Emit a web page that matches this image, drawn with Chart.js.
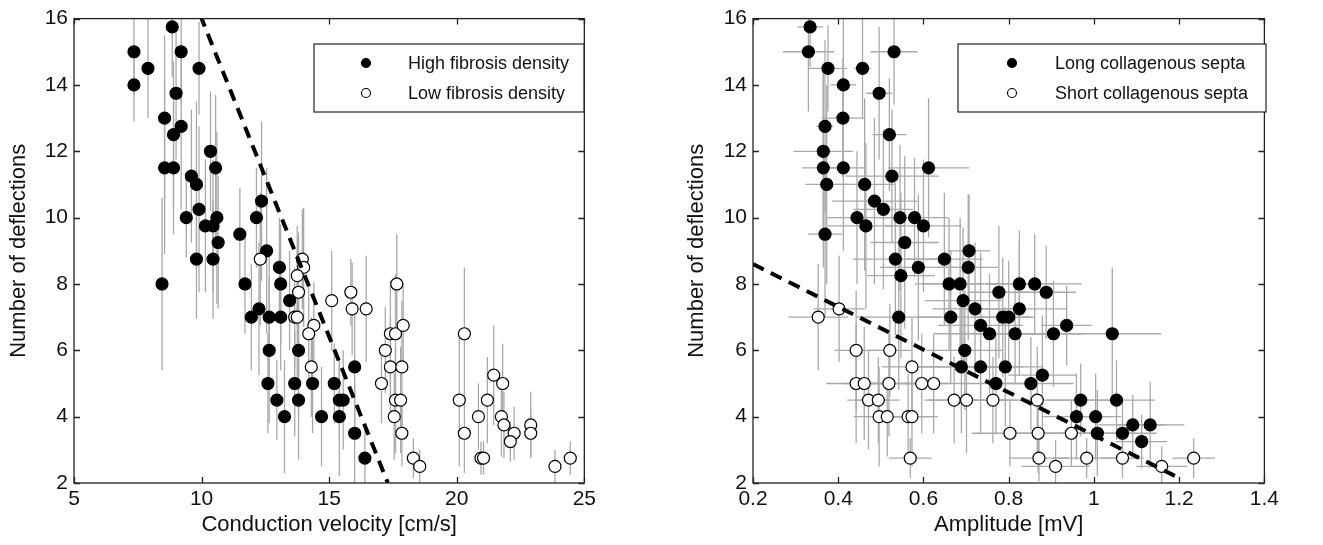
<!DOCTYPE html>
<html>
<head>
<meta charset="utf-8">
<script src="https://cdn.jsdelivr.net/npm/chart.js@4.4.1/dist/chart.umd.min.js"></script>
<style>
  body { margin: 0; background: #fff; width: 1323px; height: 545px; overflow: hidden; position: relative; }
  .panel { position: absolute; top: 0; height: 545px; }
  #leftPanel { left: 0; width: 600px; }
  #rightPanel { left: 660px; width: 623px; }
</style>
</head>
<body>
<div class="panel" id="leftPanel"><canvas id="velocityChart"></canvas></div>
<div class="panel" id="rightPanel"><canvas id="amplitudeChart"></canvas></div>
<script>
// ---- left panel: conduction velocity ----
const highCV   = [7.35, 7.35, 7.9, 8.85, 9.2, 9.9, 9.0, 8.55, 9.2, 8.9, 10.35, 8.55, 8.9, 10.55, 9.6, 9.8, 12.35, 9.9, 9.4, 10.6, 12.15, 10.15, 10.45, 11.5, 10.65, 12.55, 9.8, 10.45, 8.45, 11.7, 13.05, 13.1, 13.45, 12.25, 11.95, 12.65, 13.1, 12.65, 13.8, 12.6, 13.65, 14.35, 15.2, 12.95, 13.8, 15.4, 15.55, 13.25, 14.7, 15.4, 16.0, 16.0, 16.4];
const highDefl = [15, 14, 14.5, 15.75, 15, 14.5, 13.75, 13, 12.75, 12.5, 12, 11.5, 11.5, 11.5, 11.25, 11, 10.5, 10.25, 10, 10, 10, 9.75, 9.75, 9.5, 9.25, 9, 8.75, 8.75, 8, 8, 8.5, 8, 7.5, 7.25, 7, 7, 7, 6, 6, 5, 5, 5, 5, 4.5, 4.5, 4.5, 4.5, 4, 4, 4, 5.5, 3.5, 2.75];
const highErr  = [1.3, 1.1, 1.5, 1.5, 1.6, 1.4, 2.0, 2.5, 2.5, 2.2, 1.8, 2.6, 2.0, 2.2, 2.0, 2.5, 2.4, 2.5, 1.2, 2.6, 1.5, 2.0, 2.0, 1.4, 2.0, 2.5, 1.8, 1.8, 2.6, 1.5, 1.5, 1.8, 1.5, 2.0, 1.6, 2.0, 1.6, 2.2, 2.0, 1.5, 1.6, 1.5, 1.2, 1.2, 1.8, 1.2, 1.5, 1.7, 1.5, 1.8, 1.8, 1.5, 1.0];

const lowCV   = [12.3, 13.95, 14.0, 13.75, 13.8, 15.1, 13.65, 13.75, 14.4, 14.2, 14.3, 15.85, 15.9, 16.45, 17.65, 17.4, 17.6, 17.9, 17.2, 17.4, 17.85, 17.05, 17.6, 17.8, 17.55, 17.85, 18.3, 18.55, 20.3, 20.1, 20.3, 21.45, 21.8, 21.2, 20.85, 21.75, 21.85, 22.25, 22.1, 22.9, 22.9, 20.95, 21.05, 23.85, 24.45];
const lowDefl = [8.75, 8.75, 8.5, 8.25, 7.75, 7.5, 7, 7, 6.75, 6.5, 5.5, 7.75, 7.25, 7.25, 8, 6.5, 6.5, 6.75, 6, 5.5, 5.5, 5, 4.5, 4.5, 4, 3.5, 2.75, 2.5, 6.5, 4.5, 3.5, 5.25, 5, 4.5, 4, 4, 3.75, 3.5, 3.25, 3.75, 3.5, 2.75, 2.75, 2.5, 2.75];
const lowErr  = [2.0, 1.5, 1.8, 1.5, 1.8, 1.5, 1.5, 2.0, 1.3, 1.6, 1.5, 1.0, 1.4, 1.6, 1.5, 1.6, 1.8, 1.3, 1.3, 1.5, 2.0, 1.2, 1.6, 1.6, 1.3, 1.0, 0.6, 0.5, 2.0, 2.0, 1.2, 1.5, 1.2, 1.3, 1.0, 1.2, 1.0, 0.8, 0.6, 1.0, 0.7, 0.5, 0.5, 0.5, 0.5];

const cvFitX = [9.95, 17.3];
const cvFitY = [16.1, 2.0];

// ---- right panel: amplitude ----
const longAmp   = [0.334, 0.330, 0.531, 0.376, 0.457, 0.412, 0.496, 0.411, 0.369, 0.520, 0.365, 0.365, 0.412, 0.612, 0.526, 0.373, 0.462, 0.485, 0.506, 0.444, 0.545, 0.579, 0.465, 0.600, 0.369, 0.556, 0.707, 0.534, 0.649, 0.588, 0.705, 0.547, 0.660, 0.686, 0.777, 0.825, 0.861, 0.888, 0.693, 0.721, 0.825, 0.542, 0.664, 0.786, 0.800, 0.734, 0.755, 0.815, 0.905, 0.936, 1.043, 0.697, 0.689, 0.734, 0.792, 0.770, 0.852, 0.879, 0.969, 1.053, 0.959, 1.004, 1.008, 1.067, 1.091, 1.132, 1.112];
const longDefl  = [15.75, 15, 15, 14.5, 14.5, 14, 13.75, 13, 12.75, 12.5, 12, 11.5, 11.5, 11.5, 11.25, 11, 11, 10.5, 10.25, 10, 10, 10, 9.75, 9.75, 9.5, 9.25, 9, 8.75, 8.75, 8.5, 8.5, 8.25, 8, 8, 7.75, 8, 8, 7.75, 7.5, 7.25, 7.25, 7, 7, 7, 7, 6.75, 6.5, 6.5, 6.5, 6.75, 6.5, 6, 5.5, 5.5, 5.5, 5, 5, 5.25, 4.5, 4.5, 4, 4, 3.5, 3.5, 3.75, 3.75, 3.25];
const longAmpErr  = [0.03, 0.06, 0.055, 0.045, 0.02, 0.03, 0.03, 0.05, 0.02, 0.04, 0.07, 0.05, 0.05, 0.095, 0.11, 0.05, 0.07, 0.1, 0.07, 0.07, 0.05, 0.08, 0.09, 0.09, 0.04, 0.08, 0.05, 0.1, 0.09, 0.09, 0.07, 0.08, 0.08, 0.09, 0.07, 0.08, 0.11, 0.07, 0.09, 0.1, 0.11, 0.1, 0.08, 0.07, 0.06, 0.1, 0.13, 0.1, 0.07, 0.06, 0.115, 0.09, 0.1, 0.1, 0.09, 0.08, 0.1, 0.08, 0.08, 0.09, 0.08, 0.06, 0.09, 0.08, 0.08, 0.08, 0.06];
const longDeflErr = [1.2, 1.8, 1.6, 1.3, 1.5, 2.6, 2.0, 1.8, 2.6, 1.7, 2.6, 3.0, 2.5, 2.1, 2.0, 3.0, 2.6, 2.5, 2.4, 2.0, 2.2, 1.8, 2.5, 2.0, 2.5, 2.6, 1.7, 2.3, 2.0, 2.2, 2.2, 2.5, 2.0, 2.0, 2.0, 1.6, 1.5, 1.4, 2.2, 2.0, 2.0, 2.2, 2.0, 1.8, 1.7, 2.2, 1.8, 1.5, 1.6, 1.2, 2.0, 1.8, 2.0, 2.0, 1.8, 1.5, 1.4, 1.8, 1.1, 1.2, 1.3, 1.3, 1.3, 1.0, 0.9, 1.3, 0.8];

const shortAmp   = [0.353, 0.402, 0.442, 0.521, 0.573, 0.442, 0.461, 0.519, 0.596, 0.624, 0.471, 0.494, 0.672, 0.701, 0.763, 0.867, 0.496, 0.515, 0.564, 0.573, 0.569, 0.803, 0.869, 0.947, 0.871, 0.910, 0.983, 1.067, 1.159, 1.234];
const shortDefl  = [7, 7.25, 6, 6, 5.5, 5, 5, 5, 5, 5, 4.5, 4.5, 4.5, 4.5, 4.5, 4.5, 4, 4, 4, 4, 2.75, 3.5, 3.5, 3.5, 2.75, 2.5, 2.75, 2.75, 2.5, 2.75];
const shortAmpErr  = [0.07, 0.06, 0.05, 0.05, 0.07, 0.07, 0.05, 0.07, 0.06, 0.07, 0.05, 0.05, 0.07, 0.09, 0.06, 0.09, 0.06, 0.05, 0.07, 0.05, 0.05, 0.09, 0.08, 0.07, 0.07, 0.08, 0.08, 0.05, 0.06, 0.05];
const shortDeflErr = [1.6, 1.6, 1.8, 1.4, 1.5, 1.8, 1.7, 1.6, 1.5, 1.5, 1.5, 1.3, 1.3, 1.6, 1.3, 1.6, 1.5, 1.2, 1.3, 1.5, 0.6, 1.0, 1.2, 1.0, 0.7, 0.8, 0.6, 0.6, 0.6, 0.6];

const ampFitX = [0.2, 1.2];
const ampFitY = [8.6, 2.15];

const deflTicks = [2, 4, 6, 8, 10, 12, 14, 16];

const FONT = "'Liberation Sans', Arial, sans-serif";

function toPoints(xs, ys) {
  return xs.map((x, i) => ({ x: x, y: ys[i] }));
}

// grey error bars, drawn under the markers
const errorBars = {
  id: 'errorBars',
  beforeDatasetsDraw(chart) {
    const ctx = chart.ctx;
    const xs = chart.scales.x, ys = chart.scales.y;
    const a = chart.chartArea;
    ctx.save();
    ctx.beginPath();
    ctx.rect(a.left, a.top, a.right - a.left, a.bottom - a.top);
    ctx.clip();
    ctx.strokeStyle = '#a9a9a9';
    ctx.lineWidth = 1.3;
    chart.data.datasets.forEach(ds => {
      if (!ds.errY && !ds.errX) return;
      ds.data.forEach((p, i) => {
        const px = xs.getPixelForValue(p.x), py = ys.getPixelForValue(p.y);
        ctx.beginPath();
        if (ds.errY) {
          ctx.moveTo(px, ys.getPixelForValue(p.y - ds.errY[i]));
          ctx.lineTo(px, ys.getPixelForValue(p.y + ds.errY[i]));
        }
        if (ds.errX) {
          ctx.moveTo(xs.getPixelForValue(p.x - ds.errX[i]), py);
          ctx.lineTo(xs.getPixelForValue(p.x + ds.errX[i]), py);
        }
        ctx.stroke();
      });
    });
    ctx.restore();
  }
};

// matlab style box with inward ticks and a boxed legend
const frameBox = {
  id: 'frameBox',
  afterDraw(chart, args, opts) {
    const ctx = chart.ctx;
    const a = chart.chartArea;
    const xs = chart.scales.x, ys = chart.scales.y;
    ctx.save();
    ctx.strokeStyle = '#222';
    ctx.lineWidth = 1.3;
    ctx.strokeRect(a.left, a.top, a.right - a.left, a.bottom - a.top);
    const t = 6;
    ctx.beginPath();
    xs.ticks.forEach(tk => {
      const px = Math.round(xs.getPixelForValue(tk.value)) + 0.5;
      ctx.moveTo(px, a.bottom); ctx.lineTo(px, a.bottom - t);
      ctx.moveTo(px, a.top); ctx.lineTo(px, a.top + t);
    });
    ys.ticks.forEach(tk => {
      const py = Math.round(ys.getPixelForValue(tk.value)) + 0.5;
      ctx.moveTo(a.left, py); ctx.lineTo(a.left + t, py);
      ctx.moveTo(a.right, py); ctx.lineTo(a.right - t, py);
    });
    ctx.stroke();

    // legend
    const L = opts.legend;
    if (L) {
      ctx.fillStyle = '#fff';
      ctx.fillRect(L.x1, L.y1, L.x2 - L.x1, L.y2 - L.y1);
      ctx.strokeStyle = '#222';
      ctx.lineWidth = 1.2;
      ctx.strokeRect(L.x1, L.y1, L.x2 - L.x1, L.y2 - L.y1);
      ctx.font = L.fontSize + 'px ' + FONT;
      ctx.textBaseline = 'middle';
      ctx.textAlign = 'left';
      L.items.forEach((it, i) => {
        const cy = L.rowY[i];
        ctx.beginPath();
        ctx.arc(L.markX, cy, 4.5, 0, Math.PI * 2);
        ctx.fillStyle = it.filled ? '#000' : '#fff';
        ctx.fill();
        ctx.strokeStyle = '#000';
        ctx.lineWidth = 1.1;
        ctx.stroke();
        ctx.fillStyle = '#111';
        ctx.fillText(it.text, L.textX, cy + 1);
      });
    }
    ctx.restore();
  }
};

function makeChart(canvasId, cfg) {
  const ctx = document.getElementById(canvasId).getContext('2d');
  return new Chart(ctx, {
    type: 'scatter',
    data: { datasets: cfg.datasets },
    options: {
      responsive: true,
      maintainAspectRatio: false,
      animation: false,
      events: [],
      layout: { padding: { top: 18, right: cfg.padRight, left: 0, bottom: 0 } },
      plugins: {
        legend: { display: false },
        tooltip: { enabled: false },
        frameBox: { legend: cfg.legend }
      },
      scales: {
        x: {
          type: 'linear',
          min: cfg.xMin, max: cfg.xMax,
          grid: { display: false, drawTicks: false },
          border: { display: false },
          ticks: {
            stepSize: cfg.xStep,
            padding: 4,
            color: '#111',
            font: { family: FONT, size: 21 },
            callback: v => String(+v.toFixed(1))
          },
          title: {
            display: true,
            text: cfg.xTitle,
            color: '#111',
            font: { family: FONT, size: 22 },
            padding: { top: 0, bottom: 7 }
          },
          afterFit: s => { s.height = 62; }
        },
        y: {
          type: 'linear',
          min: 2, max: 16,
          grid: { display: false, drawTicks: false },
          border: { display: false },
          afterBuildTicks: s => { s.ticks = deflTicks.map(v => ({ value: v })); },
          ticks: {
            padding: 6,
            color: '#111',
            font: { family: FONT, size: 21 }
          },
          title: {
            display: true,
            text: 'Number of deflections',
            color: '#111',
            font: { family: FONT, size: 22 },
            padding: { top: cfg.yTitlePad, bottom: 0 }
          },
          afterFit: s => { s.width = cfg.yWidth; }
        }
      }
    },
    plugins: [errorBars, frameBox]
  });
}

function fitLine(xs, ys) {
  return {
    type: 'line',
    data: toPoints(xs, ys),
    showLine: true,
    borderColor: '#000',
    borderWidth: 4,
    borderDash: [12, 8],
    pointRadius: 0,
    fill: false,
    order: 0
  };
}

function dots(xs, ys, filled, errX, errY) {
  return {
    data: toPoints(xs, ys),
    pointRadius: 6,
    pointBorderWidth: 1.2,
    pointBackgroundColor: filled ? '#000' : '#fff',
    pointBorderColor: '#000',
    errX: errX,
    errY: errY,
    order: filled ? 2 : 1
  };
}

makeChart('velocityChart', {
  datasets: [
    fitLine(cvFitX, cvFitY),
    dots(lowCV, lowDefl, false, null, lowErr),
    dots(highCV, highDefl, true, null, highErr)
  ],
  xMin: 5, xMax: 25, xStep: 5,
  xTitle: 'Conduction velocity [cm/s]',
  yWidth: 74, yTitlePad: 6, padRight: 10,
  legend: {
    x1: 314, y1: 44, x2: 584, y2: 112,
    markX: 366, textX: 408, rowY: [63, 93], fontSize: 18,
    items: [
      { text: 'High fibrosis density', filled: true },
      { text: 'Low fibrosis density', filled: false }
    ]
  }
});

makeChart('amplitudeChart', {
  datasets: [
    fitLine(ampFitX, ampFitY),
    dots(shortAmp, shortDefl, false, shortAmpErr, shortDeflErr),
    dots(longAmp, longDefl, true, longAmpErr, longDeflErr)
  ],
  xMin: 0.2, xMax: 1.4, xStep: 0.2,
  xTitle: 'Amplitude [mV]',
  yWidth: 93, yTitlePad: 24, padRight: 12,
  legend: {
    x1: 298, y1: 44, x2: 606, y2: 112,
    markX: 352, textX: 395, rowY: [63, 93], fontSize: 18,
    items: [
      { text: 'Long collagenous septa', filled: true },
      { text: 'Short collagenous septa', filled: false }
    ]
  }
});
</script>
</body>
</html>
